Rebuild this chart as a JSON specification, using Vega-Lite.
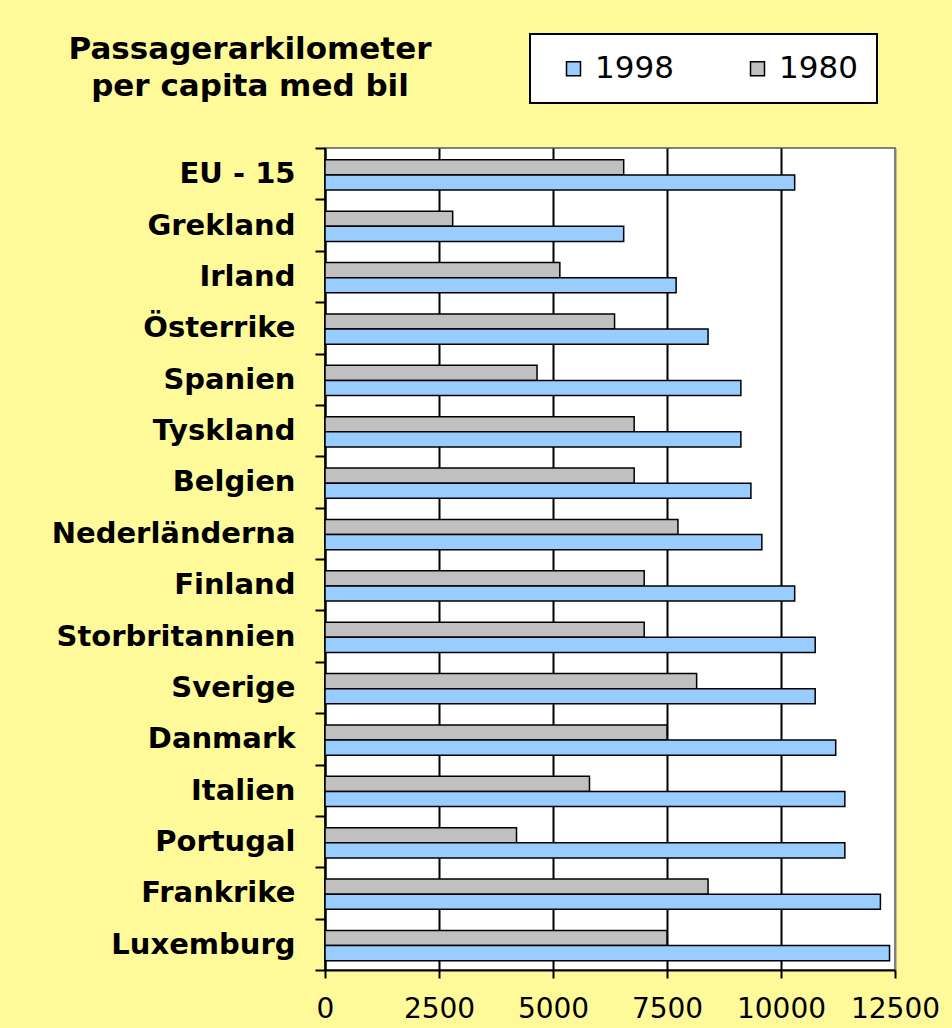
{
  "$schema": "https://vega.github.io/schema/vega-lite/v6.json",
  "autosize": {"type": "none"},
  "width": 570,
  "height": 822,
  "padding": {"left": 325, "top": 148, "right": 57, "bottom": 58},
  "background": "#FFFA99",
  "title": {
    "text": ["Passagerarkilometer", "per capita med bil"],
    "anchor": "start",
    "frame": "group",
    "align": "center",
    "dx": -75,
    "dy": 70,
    "font": "DejaVu Sans",
    "fontWeight": "bold",
    "fontSize": 31,
    "lineHeight": 37,
    "color": "black",
    "offset": 0
  },
  "data": {
    "values": [
      {"country": "EU - 15", "year": "1980", "value": 6550},
      {"country": "EU - 15", "year": "1998", "value": 10300},
      {"country": "Grekland", "year": "1980", "value": 2800},
      {"country": "Grekland", "year": "1998", "value": 6550},
      {"country": "Irland", "year": "1980", "value": 5150},
      {"country": "Irland", "year": "1998", "value": 7700},
      {"country": "Österrike", "year": "1980", "value": 6350},
      {"country": "Österrike", "year": "1998", "value": 8400},
      {"country": "Spanien", "year": "1980", "value": 4650},
      {"country": "Spanien", "year": "1998", "value": 9120},
      {"country": "Tyskland", "year": "1980", "value": 6780},
      {"country": "Tyskland", "year": "1998", "value": 9120},
      {"country": "Belgien", "year": "1980", "value": 6780},
      {"country": "Belgien", "year": "1998", "value": 9340},
      {"country": "Nederländerna", "year": "1980", "value": 7740},
      {"country": "Nederländerna", "year": "1998", "value": 9580},
      {"country": "Finland", "year": "1980", "value": 7000},
      {"country": "Finland", "year": "1998", "value": 10300},
      {"country": "Storbritannien", "year": "1980", "value": 7000},
      {"country": "Storbritannien", "year": "1998", "value": 10750},
      {"country": "Sverige", "year": "1980", "value": 8150},
      {"country": "Sverige", "year": "1998", "value": 10750},
      {"country": "Danmark", "year": "1980", "value": 7500},
      {"country": "Danmark", "year": "1998", "value": 11200},
      {"country": "Italien", "year": "1980", "value": 5800},
      {"country": "Italien", "year": "1998", "value": 11400},
      {"country": "Portugal", "year": "1980", "value": 4200},
      {"country": "Portugal", "year": "1998", "value": 11400},
      {"country": "Frankrike", "year": "1980", "value": 8400},
      {"country": "Frankrike", "year": "1998", "value": 12180},
      {"country": "Luxemburg", "year": "1980", "value": 7500},
      {"country": "Luxemburg", "year": "1998", "value": 12380}
    ]
  },
  "mark": {"type": "bar", "stroke": "black", "strokeWidth": 1.5},
  "encoding": {
    "y": {
      "field": "country",
      "type": "nominal",
      "sort": ["EU - 15", "Grekland", "Irland", "Österrike", "Spanien", "Tyskland", "Belgien", "Nederländerna", "Finland", "Storbritannien", "Sverige", "Danmark", "Italien", "Portugal", "Frankrike", "Luxemburg"],
      "scale": {"paddingInner": 0, "paddingOuter": 0},
      "axis": {
        "title": null,
        "grid": false,
        "tickBand": "extent",
        "domainColor": "black",
        "domainWidth": 2,
        "tickColor": "black",
        "tickWidth": 2,
        "tickSize": 10,
        "labelFont": "DejaVu Sans",
        "labelFontWeight": "bold",
        "labelFontSize": 29,
        "labelColor": "black",
        "labelPadding": 20,
        "labelLimit": 400
      }
    },
    "yOffset": {
      "field": "year",
      "type": "nominal",
      "scale": {"domain": ["1980", "1998"], "paddingInner": 0, "paddingOuter": 0.7, "align": 0.56}
    },
    "x": {
      "field": "value",
      "type": "quantitative",
      "scale": {"domain": [0, 12500], "nice": false},
      "axis": {
        "title": null,
        "values": [0, 2500, 5000, 7500, 10000, 12500],
        "format": "d",
        "grid": true,
        "gridColor": {"condition": {"test": "datum.value === 12500", "value": "#808080"}, "value": "black"},
        "gridWidth": 2,
        "domainColor": "black",
        "domainWidth": 2,
        "tickColor": "black",
        "tickWidth": 2,
        "tickSize": 8,
        "labelFont": "DejaVu Sans",
        "labelFontSize": 28,
        "labelColor": "black",
        "labelPadding": 17,
        "labelFlush": false,
        "labelOverlap": false
      }
    },
    "color": {
      "field": "year",
      "type": "nominal",
      "scale": {"domain": ["1998", "1980"], "range": ["#99CCFF", "#C0C0C0"]},
      "legend": {
        "orient": "none",
        "legendX": 205,
        "legendY": -114,
        "direction": "horizontal",
        "title": " ",
        "titleOrient": "left",
        "titleFontSize": 30,
        "titlePadding": 9,
        "symbolType": "square",
        "symbolSize": 196,
        "symbolStrokeColor": "black",
        "symbolStrokeWidth": 1.5,
        "symbolOpacity": 1,
        "labelFont": "DejaVu Sans",
        "labelFontSize": 31,
        "labelColor": "black",
        "labelOffset": 6,
        "columnPadding": 68,
        "padding": 19,
        "fillColor": "white",
        "strokeColor": "black",
        "encode": {"legend": {"update": {"strokeWidth": {"value": 2}}}}
      }
    }
  },
  "config": {
    "view": {"fill": "white", "stroke": "#808080", "strokeWidth": 2}
  }
}
